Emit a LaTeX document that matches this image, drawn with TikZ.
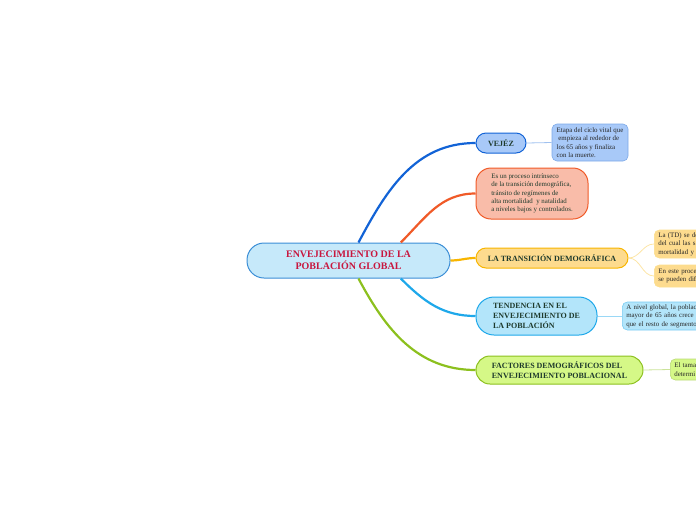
\documentclass[tikz,border=0pt]{standalone}
\usepackage{fontspec}
\setmainfont{Liberation Serif}

\definecolor{rootfill}{HTML}{C6E9FA}
\definecolor{rootline}{HTML}{3B8ED6}
\definecolor{roottext}{HTML}{C8163E}
\definecolor{topictext}{HTML}{1E3A2C}
\definecolor{vejline}{HTML}{1263D6}
\definecolor{vejfill}{HTML}{A8C9F8}
\definecolor{procline}{HTML}{F05A28}
\definecolor{procfill}{HTML}{F9BCA9}
\definecolor{tdline}{HTML}{F8B500}
\definecolor{tdfill}{HTML}{FDDB8E}
\definecolor{tendline}{HTML}{1EA8EA}
\definecolor{tendfill}{HTML}{B3E5FA}
\definecolor{factline}{HTML}{8CC01E}
\definecolor{factfill}{HTML}{D5F887}

\begin{document}
\begin{tikzpicture}[x=1pt, y=-1pt,
    topic/.style={draw, rounded corners=#1, line width=1pt, inner sep=0pt,
        align=left, text=topictext, font=\bfseries\fontsize{8}{10}\selectfont},
    leaf/.style={draw, rounded corners=5pt, line width=0.6pt, inner sep=0pt,
        align=left, text=black!85, font=\fontsize{6.9}{8.4}\selectfont},
    edge/.style={line width=2.2pt},
    twig/.style={line width=0.8pt}]
    \useasboundingbox (0,0) rectangle (696,520);
    \clip (0,0) rectangle (696,520);

    % Central idea
    \node[draw=rootline, fill=rootfill, rounded corners=17pt, line width=1pt,
        minimum width=203pt, minimum height=35pt, align=center, text=roottext,
        font=\bfseries\fontsize{10}{12}\selectfont] (root) at (348.5,260.5)
        {ENVEJECIMIENTO DE LA\\POBLACIÓN GLOBAL};

    % Main topics
    \node[topic=10pt, draw=vejline, fill=vejfill, minimum width=50pt, minimum height=20pt]
        (vej) at (501,143) {VEJÉZ};
    \node[topic=15pt, draw=procline, fill=procfill, minimum width=112pt, minimum height=51pt,
        font=\fontsize{6.9}{8.2}\selectfont] (proc) at (532,193.5)
        {Es un proceso intrínseco\\de la transición demográfica,\\tránsito de regímenes de\\alta mortalidad \ y natalidad\\a niveles bajos y controlados.};
    \node[topic=10pt, draw=tdline, fill=tdfill, minimum width=152pt, minimum height=20pt]
        (td) at (552,258) {LA TRANSICIÓN DEMOGRÁFICA};
    \node[topic=18pt, draw=tendline, fill=tendfill, minimum width=121pt, minimum height=38pt]
        (tend) at (536.5,316) {TENDENCIA EN EL\\ENVEJECIMIENTO DE\\LA POBLACIÓN};
    \node[topic=14pt, draw=factline, fill=factfill, minimum width=167pt, minimum height=28pt,
        font=\bfseries\fontsize{8}{9.5}\selectfont] (fact) at (559.5,370)
        {FACTORES DEMOGRÁFICOS DEL\\ENVEJECIMIENTO POBLACIONAL};

    % Details
    \node[leaf, draw=vejline!55, fill=vejfill, minimum width=76pt, minimum height=37pt]
        (vejnote) at (590,142.5)
        {Etapa del ciclo vital que\\\ empieza al rededor de\\los 65 años y finaliza\\con la muerte.};
    \node[leaf, draw=tdline!45, fill=tdfill, anchor=west, text width=60pt, inner xsep=4pt,
        minimum height=28pt] (tdnotea) at (654,244)
        {La (TD) se de\\del cual las s\\mortalidad y};
    \node[leaf, draw=tdline!45, fill=tdfill, anchor=west, text width=60pt, inner xsep=4pt,
        minimum height=22pt] (tdnoteb) at (654,276)
        {En este proce\\se pueden dif};
    \node[leaf, draw=tendline!60, fill=tendfill, anchor=west, text width=90pt, inner xsep=4pt,
        minimum height=28pt] (tendnote) at (622,316)
        {A nivel global, la poblac\\mayor de 65 años crece a\\que el resto de segmento};
    \node[leaf, draw=factline!60, fill=factfill, anchor=west, text width=40pt, inner xsep=4pt,
        minimum height=21pt] (factnote) at (670,369.5)
        {El tama\\determi};

    % Branches from the centre
    \draw[edge, vejline] (root.61.5) to[out=62, in=180] (vej.west);
    \draw[edge, procline] (root.19.8) to[out=45, in=180] (proc.west);
    \draw[edge, tdline] (root.east) to[out=0, in=180] (td.west);
    \draw[edge, tendline] (root.-19.8) to[out=-45, in=180] (tend.west);
    \draw[edge, factline] (root.-61.5) to[out=-62, in=180] (fact.west);

    % Twigs to the notes
    \draw[twig, vejline!40] (vej.east) -- (vejnote.west);
    \draw[twig, tdline!35] (td.east) to[out=0, in=180] (tdnotea.west);
    \draw[twig, tdline!35] (td.east) to[out=0, in=180] (tdnoteb.west);
    \draw[twig, tendline!45] (tend.east) -- (tendnote.west);
    \draw[twig, factline!45] (fact.east) -- (factnote.west);
\end{tikzpicture}
\end{document}
